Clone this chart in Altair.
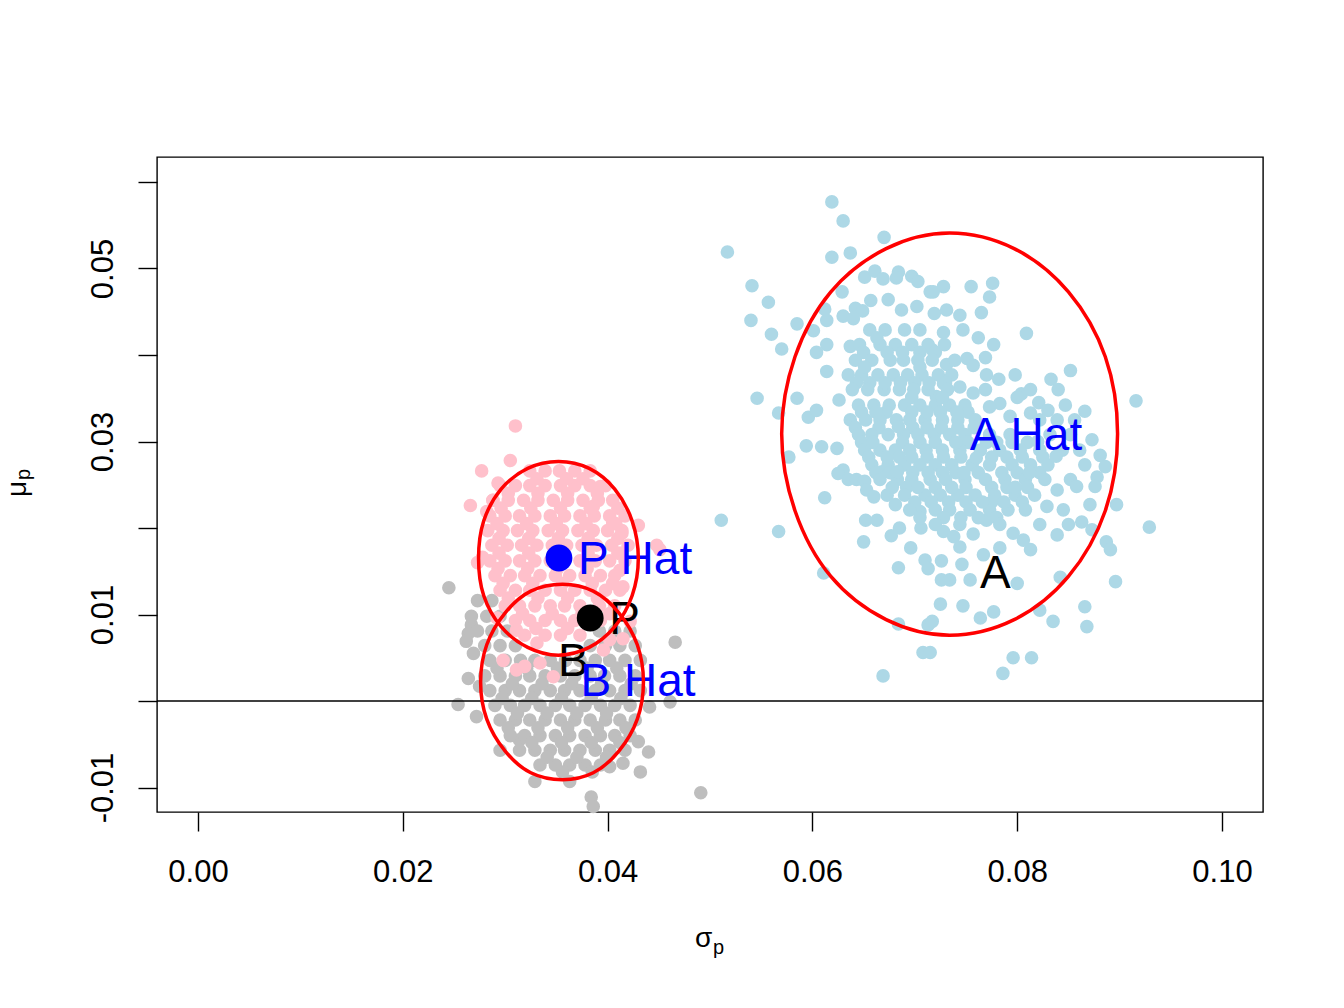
import altair as alt
import pandas as pd

FONT = "Liberation Sans"

# ---------------- data ----------------
# light-blue cloud (asset A simulations): scattered points
a_outer = [
    (0.0619, 0.0577), (0.0630, 0.0555), (0.0670, 0.0536), (0.0517, 0.0519), (0.0619, 0.0513),
    (0.0637, 0.0518), (0.0541, 0.0480), (0.0557, 0.0461), (0.0540, 0.0440), (0.0585, 0.0436),
    (0.0560, 0.0424), (0.0570, 0.0407), (0.0601, 0.0428), (0.0614, 0.0440), (0.0612, 0.0453),
    (0.0630, 0.0445), (0.0614, 0.0412), (0.0604, 0.0403), (0.0614, 0.0381), (0.0546, 0.0350),
    (0.0585, 0.0350), (0.0567, 0.0333), (0.0596, 0.0328), (0.0604, 0.0336), (0.0626, 0.0348),
    (0.0637, 0.0410), (0.0629, 0.0473), (0.0651, 0.0490), (0.0661, 0.0497), (0.0669, 0.0488),
    (0.0684, 0.0496), (0.0682, 0.0489), (0.0697, 0.0491), (0.0703, 0.0485), (0.0657, 0.0463),
    (0.0674, 0.0464), (0.0642, 0.0454), (0.0649, 0.0451), (0.0640, 0.0442), (0.0702, 0.0456),
    (0.0687, 0.0452), (0.0715, 0.0473), (0.0728, 0.0479), (0.0718, 0.0473), (0.0755, 0.0479),
    (0.0776, 0.0483), (0.0773, 0.0467), (0.0719, 0.0448), (0.0731, 0.0452), (0.0744, 0.0446),
    (0.0765, 0.0449), (0.0728, 0.0426), (0.0747, 0.0429), (0.0762, 0.0420), (0.0777, 0.0412),
    (0.0809, 0.0425), (0.0717, 0.0406), (0.0751, 0.0396), (0.0769, 0.0397), (0.0731, 0.0389),
    (0.0757, 0.0388), (0.0782, 0.0372), (0.0770, 0.0377), (0.0852, 0.0382), (0.0833, 0.0372),
    (0.0840, 0.0360), (0.0916, 0.0347), (0.0804, 0.0355), (0.0800, 0.0351), (0.0821, 0.0345),
    (0.0830, 0.0336), (0.0866, 0.0335), (0.0728, 0.0367), (0.0744, 0.0363), (0.0757, 0.0356),
    (0.0721, 0.0352), (0.0783, 0.0344), (0.0773, 0.0340), (0.0793, 0.0329), (0.0813, 0.0333),
    (0.0839, 0.0325), (0.0873, 0.0302),
    (0.0511, 0.0209), (0.0567, 0.0196), (0.0611, 0.0148), (0.0612, 0.0235), (0.0577, 0.0282),
    (0.0594, 0.0295), (0.0609, 0.0294), (0.0624, 0.0292), (0.0630, 0.0267), (0.0625, 0.0263),
    (0.0635, 0.0256), (0.0643, 0.0256), (0.0651, 0.0254), (0.0653, 0.0244), (0.0660, 0.0236),
    (0.0668, 0.0265), (0.0673, 0.0238), (0.0681, 0.0227), (0.0652, 0.0209), (0.0663, 0.0209),
    (0.0650, 0.0184), (0.0677, 0.0191), (0.0685, 0.0200), (0.0696, 0.0177), (0.0706, 0.0200),
    (0.0705, 0.0219), (0.0684, 0.0154), (0.0710, 0.0163), (0.0713, 0.0153), (0.0684, 0.0089),
    (0.0713, 0.0088), (0.0708, 0.0056), (0.0669, 0.0029),
    (0.0929, 0.0201), (0.0897, 0.0227), (0.0896, 0.0138), (0.0887, 0.0184), (0.0891, 0.0175),
    (0.0866, 0.0109), (0.0868, 0.0086), (0.0835, 0.0092), (0.0822, 0.0105), (0.0842, 0.0143),
    (0.0796, 0.0050), (0.0814, 0.0050), (0.0786, 0.0032), (0.0777, 0.0103), (0.0764, 0.0096),
    (0.0747, 0.0110), (0.0725, 0.0112), (0.0800, 0.0136), (0.0726, 0.0140), (0.0734, 0.0140),
    (0.0754, 0.0140), (0.0726, 0.0162), (0.0746, 0.0158), (0.0767, 0.0169), (0.0783, 0.0177),
    (0.0839, 0.0192), (0.0871, 0.0227), (0.0873, 0.0198), (0.0878, 0.0259), (0.0876, 0.0248),
    (0.0852, 0.0256), (0.0858, 0.0248), (0.0839, 0.0244), (0.0845, 0.0221), (0.0829, 0.0225),
    (0.0863, 0.0207), (0.0850, 0.0204), (0.0813, 0.0175), (0.0806, 0.0186), (0.0796, 0.0194),
    (0.0757, 0.0193), (0.0770, 0.0209), (0.0728, 0.0196), (0.0738, 0.0190), (0.0744, 0.0178),
    (0.0717, 0.0092), (0.0715, 0.0056), (0.0881, 0.0284), (0.0886, 0.0271),
]
# dense core of the light-blue cloud, row by row (y: list of x)
a_core = {
    0.0429: [0.0656, 0.0671, 0.0690, 0.0705],
    0.0412: [0.0646, 0.0666, 0.0681, 0.0697, 0.0713, 0.0729],
    0.0403: [0.0650, 0.0673, 0.0705, 0.0720],
    0.0394: [0.0642, 0.0658, 0.0676, 0.0689, 0.0703, 0.0717, 0.0739],
    0.0377: [0.0635, 0.0648, 0.0664, 0.0679, 0.0693, 0.0707, 0.0723, 0.0736, 0.0798],
    0.0368: [0.0643, 0.0656, 0.0686, 0.0700, 0.0730],
    0.0360: [0.0639, 0.0654, 0.0670, 0.0685, 0.0699, 0.0713, 0.0732, 0.0769, 0.0813],
    0.0342: [0.0645, 0.0660, 0.0675, 0.0690, 0.0705, 0.0720, 0.0734, 0.0749, 0.0847],
    0.0334: [0.0648, 0.0672, 0.0697, 0.0725, 0.0752],
    0.0325: [0.0637, 0.0652, 0.0666, 0.0682, 0.0695, 0.0710, 0.0727, 0.0742, 0.0759, 0.0822, 0.0856],
    0.0316: [0.0642, 0.0665, 0.0698, 0.0712, 0.0742, 0.0758],
    0.0308: [0.0645, 0.0658, 0.0674, 0.0689, 0.0703, 0.0719, 0.0734, 0.0749, 0.0773, 0.0793, 0.0832, 0.0852],
    0.0299: [0.0648, 0.0688, 0.0705, 0.0720, 0.0752, 0.0770, 0.0795, 0.0810],
    0.0290: [0.0651, 0.0666, 0.0681, 0.0695, 0.0711, 0.0727, 0.0744, 0.0764, 0.0783, 0.0803, 0.0822, 0.0844, 0.0861],
    0.0282: [0.0655, 0.0685, 0.0712, 0.0728, 0.0745, 0.0775, 0.0790, 0.0805, 0.0825],
    0.0273: [0.0658, 0.0674, 0.0690, 0.0705, 0.0720, 0.0736, 0.0756, 0.0773, 0.0795, 0.0813, 0.0830, 0.0866],
    0.0264: [0.0662, 0.0676, 0.0698, 0.0727, 0.0740, 0.0762, 0.0785, 0.0800, 0.0822],
    0.0256: [0.0666, 0.0683, 0.0697, 0.0715, 0.0730, 0.0749, 0.0769, 0.0788, 0.0808, 0.0827],
    0.0247: [0.0678, 0.0692, 0.0720, 0.0750, 0.0775, 0.0790, 0.0810],
    0.0238: [0.0690, 0.0710, 0.0725, 0.0742, 0.0759, 0.0778, 0.0798, 0.0817],
    0.0230: [0.0700, 0.0716, 0.0733, 0.0750, 0.0775, 0.0805],
    0.0221: [0.0695, 0.0720, 0.0734, 0.0754, 0.0773, 0.0791, 0.0808],
    0.0212: [0.0705, 0.0728, 0.0745, 0.0762, 0.0780],
    0.0204: [0.0720, 0.0744, 0.0783, 0.0822],
}
# extra points filling the gaps of the densest part of the light-blue cloud
a_fill = [
    (0.0663, 0.0420), (0.0688, 0.0403), (0.0705, 0.0386), (0.0651, 0.0386), (0.0671, 0.0368),
    (0.0697, 0.0351), (0.0714, 0.0368), (0.0662, 0.0334), (0.0684, 0.0317), (0.0712, 0.0334),
    (0.0726, 0.0316), (0.0740, 0.0299), (0.0659, 0.0299), (0.0673, 0.0282), (0.0697, 0.0282),
    (0.0713, 0.0264), (0.0748, 0.0264), (0.0736, 0.0247), (0.0760, 0.0281), (0.0780, 0.0299),
    (0.0703, 0.0247), (0.0766, 0.0230), (0.0812, 0.0264), (0.0798, 0.0247), (0.0741, 0.0334),
    (0.0727, 0.0351), (0.0683, 0.0265), (0.0787, 0.0230), (0.0838, 0.0283), (0.0820, 0.0300),
]

# grey cloud (asset B simulations)
b_outer = [
    (0.0245, 0.0131), (0.0267, 0.0088), (0.0264, 0.0078), (0.0262, 0.0069), (0.0269, 0.0055),
    (0.0264, 0.0026), (0.0275, 0.0017), (0.0254, -0.0004), (0.0272, -0.0018), (0.0295, -0.0057),
    (0.0314, -0.0045), (0.0329, -0.0093), (0.0363, -0.0093), (0.0466, 0.0068), (0.0461, -0.0001),
    (0.0441, -0.0007), (0.0430, -0.0047), (0.0440, -0.0059), (0.0432, -0.0082), (0.0491, -0.0106),
    (0.0384, -0.0111), (0.0386, -0.0122), (0.0415, -0.0072), (0.0402, -0.0076),
]
b_core = {
    0.0116: [0.0273, 0.0287],
    0.0098: [0.0267, 0.0282, 0.0295],
    0.0081: [0.0273, 0.0287, 0.0302, 0.0392, 0.0407, 0.0422],
    0.0064: [0.0280, 0.0295, 0.0310, 0.0383, 0.0398, 0.0412, 0.0427],
    0.0047: [0.0285, 0.0300, 0.0315, 0.0329, 0.0344, 0.0359, 0.0373, 0.0388, 0.0402, 0.0417, 0.0432],
    0.0029: [0.0280, 0.0295, 0.0310, 0.0324, 0.0339, 0.0354, 0.0368, 0.0383, 0.0397, 0.0412, 0.0427],
    0.0012: [0.0285, 0.0300, 0.0314, 0.0329, 0.0344, 0.0358, 0.0373, 0.0388, 0.0402, 0.0417, 0.0432],
    -0.0005: [0.0290, 0.0305, 0.0319, 0.0334, 0.0349, 0.0363, 0.0378, 0.0393, 0.0407, 0.0422],
    -0.0022: [0.0295, 0.0310, 0.0324, 0.0339, 0.0354, 0.0368, 0.0383, 0.0398, 0.0412, 0.0427],
    -0.0040: [0.0305, 0.0319, 0.0334, 0.0349, 0.0363, 0.0378, 0.0393, 0.0407, 0.0422],
    -0.0057: [0.0314, 0.0329, 0.0344, 0.0358, 0.0373, 0.0388, 0.0402, 0.0417],
    -0.0074: [0.0334, 0.0349, 0.0363, 0.0378, 0.0393],
}
b_fill = [
    (0.0292, 0.0038), (0.0321, 0.0038), (0.0351, 0.0038), (0.0380, 0.0038), (0.0409, 0.0038),
    (0.0307, 0.0020), (0.0336, 0.0020), (0.0365, 0.0020), (0.0394, 0.0020), (0.0423, 0.0020),
    (0.0297, 0.0003), (0.0326, 0.0003), (0.0355, 0.0003), (0.0384, 0.0003), (0.0413, 0.0003),
    (0.0312, -0.0014), (0.0341, -0.0014), (0.0370, -0.0014), (0.0399, -0.0014), (0.0303, -0.0031),
    (0.0332, -0.0031), (0.0361, -0.0031), (0.0390, -0.0031), (0.0418, -0.0031), (0.0326, -0.0048),
    (0.0355, -0.0048), (0.0384, -0.0048), (0.0412, -0.0048), (0.0341, -0.0065), (0.0370, -0.0065),
    (0.0399, -0.0065), (0.0356, -0.0082), (0.0385, -0.0082),
]

# pink cloud (portfolio P simulations)
p_outer = [
    (0.0310, 0.0318), (0.0305, 0.0278), (0.0277, 0.0266), (0.0266, 0.0226), (0.0293, 0.0252),
    (0.0288, 0.0232), (0.0282, 0.0219), (0.0273, 0.0160), (0.0278, 0.0166), (0.0393, 0.0248),
    (0.0386, 0.0225), (0.0405, 0.0206), (0.0414, 0.0194), (0.0430, 0.0203), (0.0448, 0.0180),
    (0.0451, 0.0175), (0.0414, 0.0171), (0.0412, 0.0151), (0.0415, 0.0132), (0.0298, 0.0047),
    (0.0311, 0.0036), (0.0319, 0.0040), (0.0334, 0.0044), (0.0347, 0.0028), (0.0292, 0.0096),
    (0.0311, 0.0082), (0.0331, 0.0067), (0.0396, 0.0059), (0.0402, 0.0071), (0.0415, 0.0072),
    (0.0422, 0.0092),
]
p_core = {
    0.0266: [0.0324, 0.0339, 0.0353, 0.0368, 0.0383],
    0.0249: [0.0295, 0.0310, 0.0324, 0.0339, 0.0354, 0.0368, 0.0383, 0.0398],
    0.0232: [0.0288, 0.0303, 0.0318, 0.0332, 0.0347, 0.0361, 0.0376, 0.0391, 0.0405],
    0.0214: [0.0285, 0.0300, 0.0314, 0.0329, 0.0344, 0.0358, 0.0373, 0.0387, 0.0402, 0.0417],
    0.0197: [0.0283, 0.0298, 0.0312, 0.0327, 0.0342, 0.0356, 0.0371, 0.0386, 0.0400, 0.0414],
    0.0180: [0.0287, 0.0302, 0.0316, 0.0331, 0.0346, 0.0360, 0.0375, 0.0389, 0.0404, 0.0420],
    0.0162: [0.0285, 0.0300, 0.0314, 0.0329, 0.0344, 0.0358, 0.0373, 0.0388, 0.0402, 0.0417],
    0.0145: [0.0290, 0.0305, 0.0319, 0.0334, 0.0349, 0.0363, 0.0378, 0.0393, 0.0407],
    0.0128: [0.0295, 0.0310, 0.0324, 0.0339, 0.0354, 0.0368, 0.0383, 0.0398, 0.0412],
    0.0110: [0.0300, 0.0314, 0.0329, 0.0344, 0.0358, 0.0373, 0.0392, 0.0407],
    0.0093: [0.0310, 0.0324, 0.0339, 0.0354, 0.0368, 0.0393],
    0.0076: [0.0319, 0.0339, 0.0354, 0.0373],
}
p_fill = [
    (0.0331, 0.0257), (0.0360, 0.0257), (0.0376, 0.0257), (0.0303, 0.0240), (0.0332, 0.0240),
    (0.0361, 0.0240), (0.0390, 0.0240), (0.0296, 0.0223), (0.0325, 0.0223), (0.0354, 0.0223),
    (0.0383, 0.0223), (0.0410, 0.0223), (0.0292, 0.0205), (0.0321, 0.0205), (0.0350, 0.0205),
    (0.0379, 0.0205), (0.0408, 0.0205), (0.0294, 0.0188), (0.0323, 0.0188), (0.0352, 0.0188),
    (0.0381, 0.0188), (0.0410, 0.0188), (0.0294, 0.0171), (0.0323, 0.0171), (0.0381, 0.0171),
    (0.0410, 0.0171), (0.0293, 0.0153), (0.0322, 0.0153), (0.0351, 0.0153), (0.0380, 0.0153),
    (0.0298, 0.0136), (0.0327, 0.0136), (0.0356, 0.0136), (0.0385, 0.0136), (0.0405, 0.0136),
    (0.0303, 0.0119), (0.0332, 0.0119), (0.0361, 0.0119), (0.0390, 0.0119), (0.0317, 0.0101),
    (0.0346, 0.0101), (0.0375, 0.0101), (0.0402, 0.0101), (0.0330, 0.0084), (0.0361, 0.0084),
]

# confidence ellipses, points read around each red curve
ellipse_a = [(0.0898, 0.0309), (0.0886, 0.0398), (0.0850, 0.0473), (0.0797, 0.0523),
             (0.0734, 0.0541), (0.0672, 0.0523), (0.0618, 0.0473), (0.0583, 0.0398),
             (0.0570, 0.0309), (0.0583, 0.0220), (0.0618, 0.0144), (0.0672, 0.0094),
             (0.0734, 0.0076), (0.0797, 0.0094), (0.0850, 0.0144), (0.0886, 0.0220)]
ellipse_p = [(0.0430, 0.0165), (0.0424, 0.0208), (0.0407, 0.0245), (0.0382, 0.0269),
             (0.0352, 0.0277), (0.0322, 0.0269), (0.0296, 0.0245), (0.0279, 0.0208),
             (0.0274, 0.0165), (0.0279, 0.0122), (0.0296, 0.0086), (0.0322, 0.0062),
             (0.0352, 0.0053), (0.0382, 0.0062), (0.0407, 0.0086), (0.0424, 0.0122)]
ellipse_b = [(0.0435, 0.0022), (0.0429, 0.0065), (0.0411, 0.0102), (0.0386, 0.0127),
             (0.0356, 0.0135), (0.0325, 0.0127), (0.0300, 0.0102), (0.0282, 0.0065),
             (0.0276, 0.0022), (0.0282, -0.0021), (0.0300, -0.0058), (0.0325, -0.0083),
             (0.0356, -0.0091), (0.0386, -0.0083), (0.0411, -0.0058), (0.0429, -0.0021)]

# big points
big_labels = ["P Hat point", "P point"]
big_x = [0.03525, 0.0383]
big_y = [0.01653, 0.0096]
big_colors = ["#0000FF", "#000000"]

# text labels
lab_text = ["A Hat", "A", "P Hat", "P", "B", "B Hat"]
lab_x = [0.0735, 0.0745, 0.03525, 0.0383, 0.0333, 0.0355]
lab_y = [0.0309, 0.0149, 0.01653, 0.0096, 0.0047, 0.0024]
lab_color = ["#0000FF", "#000000", "#0000FF", "#000000", "#000000", "#0000FF"]

x_ticks = [0.0, 0.02, 0.04, 0.06, 0.08, 0.10]
y_ticks = [-0.01, 0.0, 0.01, 0.02, 0.03, 0.04, 0.05, 0.06]


# ---------------- build tables ----------------
def cloud(outer, core, fill):
    pts = list(outer) + [(x, y) for y, xs in core.items() for x in xs] + list(fill)
    return pd.DataFrame(pts, columns=["x", "y"])


df_a = cloud(a_outer, a_core, a_fill)
df_b = cloud(b_outer, b_core, b_fill)
df_p = cloud(p_outer, p_core, p_fill)

ell_rows = []
for name, pts in (("A", ellipse_a), ("P", ellipse_p), ("B", ellipse_b)):
    for i, (x, y) in enumerate(pts):
        ell_rows.append({"e": name, "i": i, "x": x, "y": y})
df_ell = pd.DataFrame(ell_rows)

df_big = pd.DataFrame({"name": big_labels, "x": big_x, "y": big_y, "c": big_colors})
df_lab = pd.DataFrame({"t": lab_text, "x": lab_x, "y": lab_y, "c": lab_color})
df_zero = pd.DataFrame({"y": [0.0]})
df_one = pd.DataFrame({"k": [1]})

# ---------------- scales / axes ----------------
xscale = alt.Scale(domain=[-0.004, 0.104], nice=False, zero=False)
yscale = alt.Scale(domain=[-0.012832, 0.06289], nice=False, zero=False)

xaxis = alt.Axis(values=x_ticks, format=".2f", title=None, grid=False, domain=False,
                 tickSize=19, tickWidth=1.4, tickColor="black",
                 labelFont=FONT, labelFontSize=31, labelColor="black",
                 labelPadding=26, labelFlush=False, labelOverlap=False, labelBound=False)
yaxis = alt.Axis(values=y_ticks, title=None, grid=False, domain=False,
                 labelExpr="(round(datum.value*100) % 2 != 0) ? ((datum.value < 0 ? '-' : '') + format(abs(datum.value), '.2f')) : ''",
                 tickSize=19, tickWidth=1.4, tickColor="black",
                 labelFont=FONT, labelFontSize=31, labelColor="black",
                 labelAngle=270, labelAlign="center", labelBaseline="alphabetic",
                 labelPadding=26, labelFlush=False, labelOverlap=False, labelBound=False)


def X():
    return alt.X("x:Q", scale=xscale, axis=xaxis)


def Y():
    return alt.Y("y:Q", scale=yscale, axis=yaxis)


def pts_layer(df, color):
    return alt.Chart(df).mark_circle(size=185, color=color, opacity=1).encode(x=X(), y=Y())


layer_a = pts_layer(df_a, "#ADD8E6")
layer_b = pts_layer(df_b, "#BEBEBE")
layer_p = pts_layer(df_p, "#FFC0CB")

zero_line = alt.Chart(df_zero).mark_rule(color="black", strokeWidth=1.4).encode(y=Y())

big_pts = alt.Chart(df_big).mark_circle(size=720, opacity=1).encode(
    x=X(), y=Y(), color=alt.Color("c:N", scale=None))

labels = alt.Chart(df_lab).mark_text(font=FONT, fontSize=46, align="left", baseline="middle",
                                     dx=19, dy=2).encode(
    x=X(), y=Y(), text="t:N", color=alt.Color("c:N", scale=None))

ellipses = alt.Chart(df_ell).mark_line(color="#FF0000", strokeWidth=3.5,
                                       interpolate="cardinal-closed").encode(
    x=X(), y=Y(), detail="e:N", order="i:Q")

# axis titles (sigma_p, mu_p) with subscripts
t_sigma = alt.Chart(df_one).mark_text(text="σ", font=FONT, fontSize=28, align="left",
                                      baseline="alphabetic", color="black").encode(
    x=alt.value(538), y=alt.value(790))
t_sigma_p = alt.Chart(df_one).mark_text(text="p", font=FONT, fontSize=20, align="left",
                                        baseline="alphabetic", color="black").encode(
    x=alt.value(556), y=alt.value(797))
t_mu = alt.Chart(df_one).mark_text(text="μ", font=FONT, fontSize=28, align="left",
                                   baseline="alphabetic", angle=270, color="black").encode(
    x=alt.value(-131), y=alt.value(340))
t_mu_p = alt.Chart(df_one).mark_text(text="p", font=FONT, fontSize=20, align="left",
                                     baseline="alphabetic", angle=270, color="black").encode(
    x=alt.value(-127), y=alt.value(323))

chart = alt.layer(
    layer_a, layer_b, layer_p, zero_line, big_pts, labels, ellipses,
    t_sigma, t_sigma_p, t_mu, t_mu_p,
).properties(
    width=1106, height=655,
    autosize=alt.AutoSizeParams(type="none"),
    padding={"left": 149, "top": 149, "right": 60, "bottom": 180},
    background="white",
).configure_view(stroke="black", strokeWidth=1.4)

chart.save("out.html", embed_options={"renderer": "svg", "actions": False})
